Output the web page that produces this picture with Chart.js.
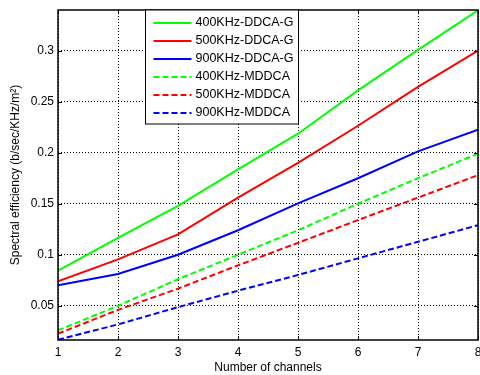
<!DOCTYPE html>
<html>
<head>
<meta charset="utf-8">
<script src="https://cdn.jsdelivr.net/npm/chart.js@4.4.0/dist/chart.umd.min.js"></script>
<style>
  html, body { margin: 0; padding: 0; background: #fff; }
  #wrap { width: 480px; height: 375px; }
</style>
</head>
<body>
<div id="wrap"><canvas id="chart" width="480" height="375"></canvas></div>
<script>
// channels on the x axis
const channels = [1, 2, 3, 4, 5, 6, 7, 8];

// spectral efficiency
const ddcaG400 = [0.0844, 0.1166, 0.148, 0.1837, 0.2186, 0.261, 0.3007, 0.3395];
const ddcaG500 = [0.074, 0.0955, 0.120, 0.156, 0.190, 0.2264, 0.2644, 0.300];
const ddcaG900 = [0.070, 0.0812, 0.100, 0.124, 0.1504, 0.175, 0.2013, 0.2225];
const mddca400 = [0.0259, 0.050, 0.076, 0.100, 0.124, 0.150, 0.175, 0.199];
const mddca500 = [0.0227, 0.046, 0.0668, 0.0896, 0.1117, 0.134, 0.156, 0.178];
const mddca900 = [0.0167, 0.0318, 0.0487, 0.0648, 0.0802, 0.0965, 0.1127, 0.129];

const seriesLabels = ['400KHz-DDCA-G', '500KHz-DDCA-G', '900KHz-DDCA-G',
                      '400KHz-MDDCA', '500KHz-MDDCA', '900KHz-MDDCA'];
const yTicks = [0.05, 0.1, 0.15, 0.2, 0.25, 0.3];
const yMin = 0.0165;
const yMax = 0.3398;

const FONT = 'Liberation Sans, Arial, sans-serif';

function mkSet(label, data, color, dashed) {
    return {
        label: label,
        data: data,
        borderColor: color,
        backgroundColor: color,
        borderWidth: 2,
        borderDash: dashed ? [6, 3] : [],
        pointRadius: 0,
        tension: 0,
        fill: false
    };
}

// box, inward ticks and legend the way matlab draws them
const matlabFrame = {
    id: 'matlabFrame',
    afterDatasetsDraw(chart) {
        const ctx = chart.ctx;
        const a = chart.chartArea;
        const xs = chart.scales.x;
        const ys = chart.scales.y;
        ctx.save();
        ctx.strokeStyle = '#000';
        ctx.lineWidth = 1;
        ctx.setLineDash([]);
        ctx.beginPath();
        channels.forEach(v => {
            const px = Math.round(xs.getPixelForValue(v)) + 0.5;
            ctx.moveTo(px, a.bottom); ctx.lineTo(px, a.bottom - 4);
            ctx.moveTo(px, a.top); ctx.lineTo(px, a.top + 4);
        });
        yTicks.forEach(v => {
            const py = Math.round(ys.getPixelForValue(v)) + 0.5;
            ctx.moveTo(a.left, py); ctx.lineTo(a.left + 4, py);
            ctx.moveTo(a.right, py); ctx.lineTo(a.right - 4, py);
        });
        ctx.stroke();
        ctx.lineWidth = 1.5;
        ctx.strokeRect(a.left, a.top, a.right - a.left, a.bottom - a.top);

        // legend
        const lx = 145.5, ly = a.top, lw = 153, lh = 114;
        ctx.fillStyle = '#fff';
        ctx.fillRect(lx, ly, lw, lh);
        ctx.lineWidth = 1;
        ctx.strokeRect(lx, ly, lw, lh);
        ctx.font = '12.5px ' + FONT;
        ctx.textBaseline = 'middle';
        chart.data.datasets.forEach((ds, i) => {
            const y = ly + 13 + i * 18;
            ctx.strokeStyle = ds.borderColor;
            ctx.lineWidth = 2;
            ctx.setLineDash(ds.borderDash);
            ctx.beginPath();
            ctx.moveTo(lx + 8, y);
            ctx.lineTo(lx + 46, y);
            ctx.stroke();
            ctx.setLineDash([]);
            ctx.fillStyle = '#000';
            ctx.fillText(ds.label, lx + 50, y);
        });
        ctx.restore();
    }
};

new Chart(document.getElementById('chart'), {
    type: 'line',
    data: {
        labels: channels,
        datasets: [
            mkSet(seriesLabels[0], ddcaG400, '#00ff00', false),
            mkSet(seriesLabels[1], ddcaG500, '#ff0000', false),
            mkSet(seriesLabels[2], ddcaG900, '#0000ff', false),
            mkSet(seriesLabels[3], mddca400, '#00ff00', true),
            mkSet(seriesLabels[4], mddca500, '#ff0000', true),
            mkSet(seriesLabels[5], mddca900, '#0000ff', true)
        ]
    },
    plugins: [matlabFrame],
    options: {
        responsive: false,
        animation: false,
        layout: { padding: { left: 0, right: 2, top: 10, bottom: 0 } },
        plugins: {
            legend: { display: false },
            tooltip: { enabled: false }
        },
        scales: {
            x: {
                type: 'linear',
                min: 1,
                max: 8,
                afterBuildTicks: scale => {
                    scale.ticks = channels.map(v => ({ value: v }));
                },
                afterFit: scale => {
                    scale.height = 35;
                    scale.paddingLeft = 0;
                    scale.paddingRight = 0;
                },
                grid: {
                    color: '#000',
                    lineWidth: 1,
                    drawTicks: false
                },
                border: { display: false, dash: [1, 2] },
                ticks: {
                    color: '#000',
                    padding: 5,
                    maxRotation: 0,
                    font: { family: FONT, size: 12 }
                },
                title: {
                    display: true,
                    text: 'Number of channels',
                    color: '#000',
                    padding: { top: 0, bottom: 0 },
                    font: { family: FONT, size: 12 }
                }
            },
            y: {
                min: yMin,
                max: yMax,
                afterBuildTicks: scale => {
                    scale.ticks = yTicks.map(v => ({ value: v }));
                },
                afterFit: scale => {
                    scale.width = 58;
                    scale.paddingTop = 0;
                    scale.paddingBottom = 0;
                },
                grid: {
                    color: '#000',
                    lineWidth: 1,
                    drawTicks: false
                },
                border: { display: false, dash: [1, 2] },
                ticks: {
                    color: '#000',
                    padding: 4,
                    font: { family: FONT, size: 12 },
                    callback: v => String(Math.round(v * 100) / 100)
                },
                title: {
                    display: true,
                    text: 'Spectral efficiency (b/sec/KHz/m²)',
                    color: '#000',
                    padding: { top: 8, bottom: 0 },
                    font: { family: FONT, size: 12 }
                }
            }
        }
    }
});
</script>
</body>
</html>
